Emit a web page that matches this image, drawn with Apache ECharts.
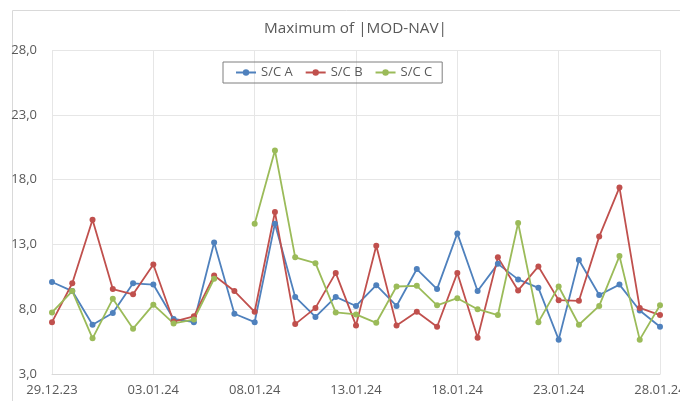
<!DOCTYPE html>
<html>
<head>
<meta charset="utf-8">
<script src="https://cdn.jsdelivr.net/npm/echarts@6/dist/echarts.min.js"></script>
<style>
html,body{margin:0;padding:0;background:#fff;}
#chart{width:680px;height:401px;}
</style>
</head>
<body>
<div id="chart"></div>
<script>
var categories = ['29.12.23','30.12.23','31.12.23','01.01.24','02.01.24','03.01.24','04.01.24','05.01.24','06.01.24','07.01.24',
  '08.01.24','09.01.24','10.01.24','11.01.24','12.01.24','13.01.24','14.01.24','15.01.24','16.01.24','17.01.24',
  '18.01.24','19.01.24','20.01.24','21.01.24','22.01.24','23.01.24','24.01.24','25.01.24','26.01.24','27.01.24','28.01.24'];
var seriesA = [10.1, 9.4, 6.8, 7.7, 10.0, 9.9, 7.25, 7.0, 13.15, 7.65,
  7.0, 14.6, 8.95, 7.4, 8.95, 8.25, 9.85, 8.25, 11.1, 9.55,
  13.85, 9.4, 11.5, 10.3, 9.65, 5.65, 11.8, 9.1, 9.9, 7.9, 6.65];
var seriesB = [7.0, 10.0, 14.9, 9.55, 9.15, 11.45, 7.05, 7.45, 10.6, 9.4,
  7.8, 15.5, 6.85, 8.1, 10.8, 6.75, 12.9, 6.75, 7.8, 6.65,
  10.8, 5.8, 12.0, 9.45, 11.3, 8.7, 8.65, 13.6, 17.4, 8.1, 7.55];
var seriesC = [7.75, 9.4, 5.75, 8.8, 6.5, 8.35, 6.9, 7.2, 10.35, null,
  14.6, 20.25, 12.0, 11.55, 7.75, 7.6, 6.95, 9.75, 9.8, 8.3,
  8.85, 8.0, 7.55, 14.65, 7.0, 9.75, 6.8, 8.25, 12.1, 5.65, 8.3];
var seriesNames = ['S/C A','S/C B','S/C C'];
var yTicks = {min: 3, max: 28, interval: 5};

var colors = ['#4F81BD','#C0504D','#9BBB59'];
var font = 'Open Sans, Noto Sans, sans-serif';
var chart = echarts.init(document.getElementById('chart'), null, {renderer:'canvas'});

function mk(name, data, color){
  return {
    name: name, type: 'line', data: data, color: color,
    symbol: 'circle', symbolSize: 6, connectNulls: false,
    lineStyle: {width: 1.8, color: color},
    itemStyle: {color: color},
    emphasis: {disabled: true},
    animation: false
  };
}

chart.setOption({
  animation: false,
  graphic: [{
    type: 'rect', left: 10, top: 8, shape: {x:0, y:0, width: 700, height: 420},
    style: {fill: 'none', stroke: '#d9d9d9', lineWidth: 1}, silent: true
  }],
  title: {
    text: 'Maximum of |MOD-NAV|', left: 259, top: 16,
    textStyle: {fontFamily: font, fontSize: 15.3, fontWeight: 'normal', color: '#595959'}
  },
  legend: {
    data: seriesNames, left: 223, top: 62, width: 218, height: 24,
    padding: [4, 10, 4, 12], itemGap: 12, itemWidth: 20, itemHeight: 8,
    borderColor: '#7f7f7f', borderWidth: 1,
    textStyle: {fontFamily: font, fontSize: 13, color: '#595959'}
  },
  grid: {left: 52, right: 20, top: 50, bottom: 27, containLabel: false, outerBoundsMode: 'none'},
  xAxis: {
    type: 'category', data: categories, boundaryGap: false,
    axisLine: {lineStyle: {color: '#d9d9d9'}},
    axisTick: {show: false},
    axisLabel: {interval: 4, color: '#595959', fontFamily: font, fontSize: 13, margin: 10, hideOverlap: false},
    splitLine: {show: true, interval: 4, lineStyle: {color: '#e6e6e6'}}
  },
  yAxis: {
    type: 'value', min: yTicks.min, max: yTicks.max, interval: yTicks.interval,
    axisLine: {show: false}, axisTick: {show: false},
    axisLabel: {color: '#595959', fontFamily: font, fontSize: 13, margin: 15,
      formatter: function(v){ return v.toFixed(1).replace('.', ','); }},
    splitLine: {lineStyle: {color: '#e6e6e6'}}
  },
  series: [mk(seriesNames[0], seriesA, colors[0]), mk(seriesNames[1], seriesB, colors[1]), mk(seriesNames[2], seriesC, colors[2])]
});
</script>
</body>
</html>
